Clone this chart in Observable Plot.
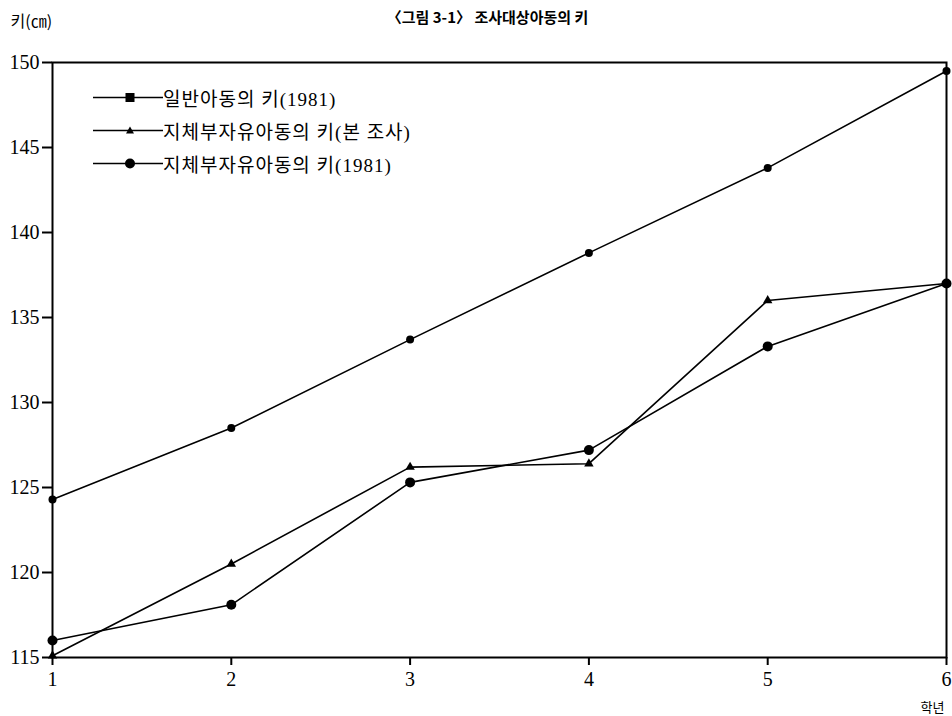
<!DOCTYPE html>
<html>
<head>
<meta charset="utf-8">
<script src="https://cdn.jsdelivr.net/npm/d3@7"></script>
<script src="https://cdn.jsdelivr.net/npm/@observablehq/plot@0.6"></script>
<style>
  html, body { margin: 0; padding: 0; background: #fff; overflow: hidden; }
  #wrap { position: relative; width: 952px; height: 716px; }
  #wrap svg { display: block; }
  #legend { position: absolute; left: 93px; top: 81px; font-family: "Liberation Serif", "Noto Sans CJK KR", serif; font-size: 19px; color: #000; }
  .row { display: flex; align-items: center; height: 33px; }
  .row span { letter-spacing: 1px; }
</style>
</head>
<body>
<div id="wrap"></div>
<script>
const grades = [1, 2, 3, 4, 5, 6];
const normal1981 = [124.3, 128.5, 133.7, 138.8, 143.8, 149.5];
const disabledSurvey = [115.1, 120.5, 126.2, 126.4, 136.0, 137.0];
const disabled1981 = [116.0, 118.1, 125.3, 127.2, 133.3, 137.0];
const seriesNames = ["일반아동의 키(1981)", "지체부자유아동의 키(본 조사)", "지체부자유아동의 키(1981)"];
const seriesSymbols = ["square", "triangle", "circle"];
const yTicks = [115, 120, 125, 130, 135, 140, 145, 150];
const titleText = "〈그림 3-1〉 조사대상아동의 키";
const yLabel = "키(㎝)";
const xLabel = "학년";

const toRows = (vals, name) => grades.map((g, i) => ({grade: g, value: vals[i], series: name}));
const s1 = toRows(normal1981, seriesNames[0]);
const s2 = toRows(disabledSurvey, seriesNames[1]);
const s3 = toRows(disabled1981, seriesNames[2]);

const chart = Plot.plot({
  width: 952,
  height: 716,
  marginLeft: 52,
  marginRight: 6,
  marginTop: 62,
  marginBottom: 59,
  style: {fontFamily: "Liberation Serif, serif", fontSize: "20px", color: "#000", background: "#fff"},
  x: {domain: [1, 6]},
  y: {domain: [115, 150]},
  marks: [
    Plot.frame({stroke: "#000", strokeWidth: 2}),
    Plot.axisX({ticks: grades, tickSize: 8, tickPadding: 6, tickFormat: d => String(d), label: null, strokeWidth: 2}),
    Plot.axisY({ticks: yTicks, tickSize: 10, tickPadding: 3, tickFormat: d => String(d), label: null, strokeWidth: 2}),
    Plot.line(s1, {x: "grade", y: "value", stroke: "#000", strokeWidth: 1.6}),
    Plot.line(s2, {x: "grade", y: "value", stroke: "#000", strokeWidth: 1.6}),
    Plot.line(s3, {x: "grade", y: "value", stroke: "#000", strokeWidth: 1.6}),
    Plot.dot(s1, {x: "grade", y: "value", r: 4, fill: "#000", stroke: "none"}),
    Plot.dot(s2, {x: "grade", y: "value", symbol: "triangle", r: 3.5, fill: "#000", stroke: "none"}),
    Plot.dot(s3, {x: "grade", y: "value", r: 5, fill: "#000", stroke: "none"}),
    Plot.text([titleText], {frameAnchor: "top", dx: -12, dy: -44, text: d => d, fontFamily: "Noto Sans CJK KR", fontSize: 15, fontWeight: "bold", lineAnchor: "middle"}),
    Plot.text([yLabel], {frameAnchor: "top-left", dx: -42, dy: -41, text: d => d, textAnchor: "start", fontFamily: "Noto Sans CJK KR", fontSize: 16, lineAnchor: "middle"}),
    Plot.text([xLabel], {frameAnchor: "bottom-right", dx: -2, dy: 50, text: d => d, textAnchor: "end", fontFamily: "Noto Sans CJK KR", fontSize: 13, lineAnchor: "middle"})
  ]
});
document.getElementById("wrap").appendChild(chart);

// legend
const legend = document.createElement("div");
legend.id = "legend";
seriesNames.forEach((name, i) => {
  const row = document.createElement("div");
  row.className = "row";
  const sym = seriesSymbols[i];
  let marker = "";
  if (sym === "square") marker = '<rect x="32.5" y="8" width="9" height="9" fill="#000"/>';
  else if (sym === "triangle") marker = '<path d="M37,8.5 L41,15.5 L33,15.5 Z" fill="#000"/>';
  else marker = '<circle cx="37" cy="12.5" r="5" fill="#000"/>';
  row.innerHTML = '<svg width="70" height="25"><line x1="0" y1="12.5" x2="70" y2="12.5" stroke="#000" stroke-width="1.6"/>' + marker + '</svg><span>' + name + '</span>';
  legend.appendChild(row);
});
document.getElementById("wrap").appendChild(legend);
</script>
</body>
</html>
